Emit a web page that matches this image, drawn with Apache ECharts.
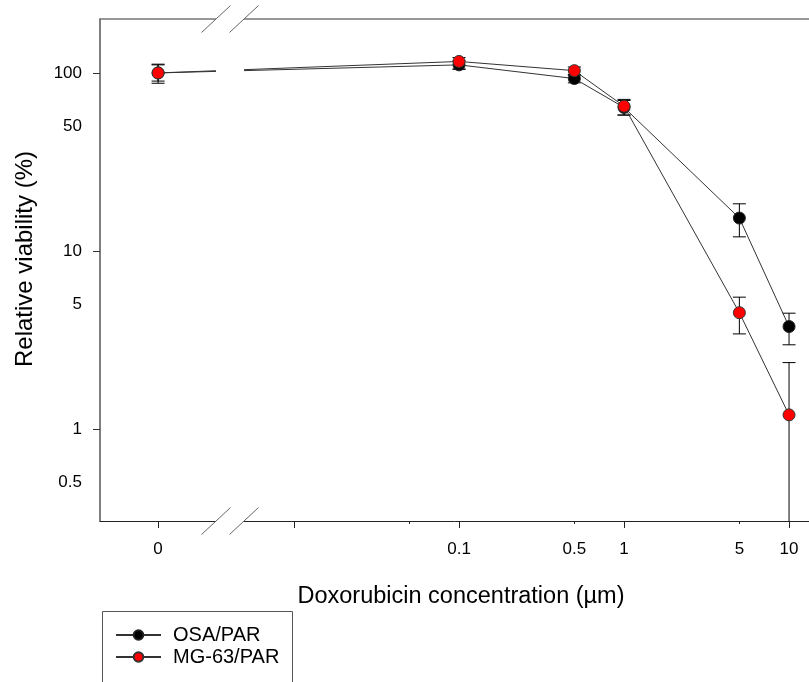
<!DOCTYPE html>
<html>
<head>
<meta charset="utf-8">
<script src="https://cdn.jsdelivr.net/npm/echarts@6.0.0/dist/echarts.min.js"></script>
<style>
  html, body { margin: 0; padding: 0; background: #fff; }
  #main { width: 809px; height: 682px; }
</style>
</head>
<body>
<div id="main"></div>
<script>
// concentrations (µm), 0 is the control drawn left of the axis break
const concentrations = [0, 0.1, 0.5, 1, 5, 10]

// relative viability (%), mean and error bar ends
const osaMean = [100, 111, 93, 64, 15.3, 3.76]
const osaLow = [90, 105, 88, 58, 12.0, 2.97]
const osaHigh = [111, 117, 98, 70, 18.4, 4.47]

const mgMean = [100, 116, 103, 65, 4.5, 1.2]
const mgLow = [87.5, 105, 97, 58, 3.42, 0.1]
const mgHigh = [112, 122, 108, 71, 5.5, 2.36]

const xLabels = [0, 0.1, 0.5, 1, 5, 10]
const xMajorTicks = [0, 0.01, 0.1, 1, 10]
const xMinorTicks = [0.05, 0.5, 5]
const yLabels = [0.5, 1, 5, 10, 50, 100]
const yTicks = [1, 10, 100]

// log10 x axis with the zero control placed before the break
const ZERO_POS = -2.824
const BREAK_POS = -2.388
const toX = (c) => (c === 0 ? ZERO_POS : Math.log10(c))
const toY = (v) => Math.log10(v)

const X_MIN = -3.176
const X_MAX = 1.121
const Y_MIN = -0.517
const Y_MAX = 2.303

const fontFamily = '"Liberation Sans", Arial, sans-serif'

function pairs(ys) {
  return concentrations.map((c, i) => [toX(c), toY(ys[i])])
}
function bars(lo, hi) {
  return concentrations.map((c, i) => [toX(c), toY(lo[i]), toY(hi[i])])
}

function labelFor(list, map) {
  return (v) => {
    const hit = list.find((t) => Math.abs(map(t) - v) < 1e-6)
    return hit === undefined ? '' : String(hit)
  }
}

function errorBar(params, api) {
  const x = api.value(0)
  const lo = api.coord([x, api.value(1)])
  const hi = api.coord([x, api.value(2)])
  const w = 6.5
  const style = { stroke: '#000', lineWidth: 1 }
  return {
    type: 'group',
    children: [
      { type: 'line', shape: { x1: hi[0], y1: hi[1], x2: lo[0], y2: lo[1] }, style },
      { type: 'line', shape: { x1: hi[0] - w, y1: hi[1], x2: hi[0] + w, y2: hi[1] }, style },
      { type: 'line', shape: { x1: lo[0] - w, y1: lo[1], x2: lo[0] + w, y2: lo[1] }, style }
    ]
  }
}

const chart = echarts.init(document.getElementById('main'))

const option = {
  animation: false,
  backgroundColor: '#fff',
  textStyle: { fontFamily },
  grid: { left: 100, right: 0, top: 19, bottom: 161 },
  legend: {
    orient: 'vertical',
    left: 102,
    top: 611,
    padding: [14, 12, 4, 13],
    itemGap: 2,
    itemWidth: 45,
    itemHeight: 12,
    textStyle: { fontSize: 20, color: '#000', fontFamily, padding: [0, 0, 0, 7] },
    data: ['OSA/PAR', 'MG-63/PAR']
  },
  xAxis: [
    {
      type: 'value',
      min: X_MIN,
      max: X_MAX,
      name: 'Doxorubicin concentration (µm)',
      nameLocation: 'middle',
      nameGap: 64,
      nameTextStyle: { fontSize: 23.5, color: '#000', fontFamily, padding: [0, 0, 0, 13] },
      axisLine: { onZero: false, lineStyle: { color: '#222', width: 1 } },
      axisTick: {
        customValues: xMajorTicks.map(toX),
        length: 7,
        lineStyle: { color: '#222' }
      },
      axisLabel: {
        customValues: xLabels.map(toX),
        formatter: labelFor(xLabels, toX),
        margin: 20,
        fontSize: 17,
        color: '#000',
        fontFamily
      },
      splitLine: { show: false }
    },
    {
      type: 'value',
      position: 'top',
      min: X_MIN,
      max: X_MAX,
      axisLine: { onZero: false, lineStyle: { color: '#777', width: 1.5 } },
      axisTick: { show: false },
      axisLabel: { show: false },
      splitLine: { show: false }
    },
    {
      type: 'value',
      position: 'bottom',
      min: X_MIN,
      max: X_MAX,
      axisLine: { show: false, onZero: false },
      axisTick: {
        customValues: xMinorTicks.map(toX),
        length: 3,
        lineStyle: { color: '#222' }
      },
      axisLabel: { show: false },
      splitLine: { show: false }
    }
  ],
  yAxis: {
    type: 'value',
    min: Y_MIN,
    max: Y_MAX,
    name: 'Relative viability (%)',
    nameLocation: 'middle',
    nameGap: 63,
    nameTextStyle: { fontSize: 24, color: '#000', fontFamily, padding: [0, 0, 0, 22] },
    axisLine: { show: true, onZero: false, lineStyle: { color: '#555', width: 1.5 } },
    axisTick: {
      show: true,
      customValues: yTicks.map(toY),
      length: 7,
      lineStyle: { color: '#333' }
    },
    axisLabel: {
      customValues: yLabels.map(toY),
      formatter: labelFor(yLabels, toY),
      margin: 18,
      fontSize: 17,
      color: '#000',
      fontFamily
    },
    splitLine: { show: false }
  },
  series: [
    {
      name: 'OSA/PAR err',
      type: 'custom',
      clip: true,
      z: 3,
      renderItem: errorBar,
      data: bars(osaLow, osaHigh)
    },
    {
      name: 'MG-63/PAR err',
      type: 'custom',
      clip: true,
      z: 3,
      renderItem: errorBar,
      data: bars(mgLow, mgHigh)
    },
    {
      name: 'OSA/PAR',
      type: 'line',
      z: 4,
      symbol: 'circle',
      symbolSize: 12,
      lineStyle: { color: '#333', width: 1 },
      itemStyle: { color: '#000', borderColor: '#222', borderWidth: 1 },
      data: pairs(osaMean)
    },
    {
      name: 'MG-63/PAR',
      type: 'line',
      z: 5,
      symbol: 'circle',
      symbolSize: 12,
      lineStyle: { color: '#333', width: 1 },
      itemStyle: { color: '#ff0000', borderColor: '#333', borderWidth: 1 },
      data: pairs(mgMean)
    }
  ]
}

chart.setOption(option)

// axis break: white gap across the frame and data line, with slash marks
const bx = chart.convertToPixel({ xAxisIndex: 0 }, BREAK_POS)
const topY = chart.convertToPixel({ yAxisIndex: 0 }, Y_MAX)
const botY = chart.convertToPixel({ yAxisIndex: 0 }, Y_MIN)
const half = 14
const slash = (cx, cy) => ({
  type: 'line',
  z: 101,
  shape: { x1: cx - 14.5, y1: cy + 13.5, x2: cx + 14.5, y2: cy - 13.5 },
  style: { stroke: '#666', lineWidth: 1 }
})

chart.setOption({
  graphic: [
    {
      type: 'rect',
      z: 100,
      shape: { x: bx - half, y: topY - 2, width: half * 2, height: botY - topY + 4 },
      style: { fill: '#fff' }
    },
    slash(bx - half, topY),
    slash(bx + half, topY),
    slash(bx - half, botY),
    slash(bx + half, botY),
    // legend frame, open below the picture edge
    {
      type: 'rect',
      z: 50,
      shape: { x: 102.5, y: 611.5, width: 190, height: 100 },
      style: { fill: 'none', stroke: '#555', lineWidth: 1 }
    }
  ]
})
</script>
</body>
</html>
